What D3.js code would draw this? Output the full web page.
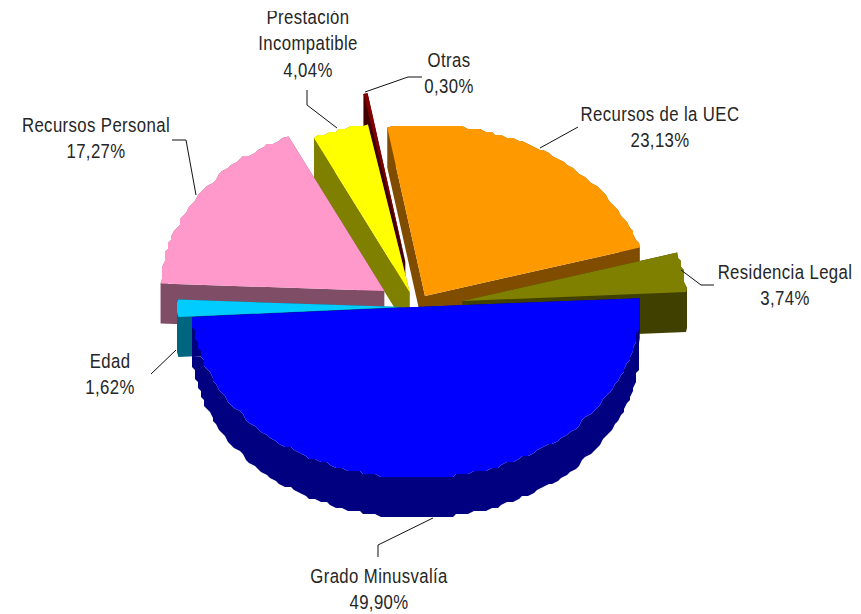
<!DOCTYPE html>
<html><head><meta charset="utf-8">
<script src="https://cdn.jsdelivr.net/npm/d3@7"></script>
<style>html,body{margin:0;padding:0;background:#fff;overflow:hidden}svg{display:block}
text{font-family:"Liberation Sans",Arial,sans-serif;font-size:19.5px;fill:#262626;text-anchor:middle}</style>
</head><body><svg id="c" width="861" height="614"></svg>
<script>
// Data
const categories = ["Recursos de la UEC","Residencia Legal","Grado Minusvalía","Edad","Recursos Personal","Prestación Incompatible","Otras"];
const values = [23.13,3.74,49.90,1.62,17.27,4.04,0.30];
const valueLabels = ["23,13%","3,74%","49,90%","1,62%","17,27%","4,04%","0,30%"];
// Style / layout
const topColors  = ["#FF9900","#808000","#0000FF","#00CCFF","#FF99CC","#FFFF00","#800000"];
const wallColors = ["#804D00","#404000","#000080","#006680","#804D66","#808000","#400000"];
const explode = [17,47,0,14,38,20,60];
const drawOrder = [6,0,5,4,1,3,2];
const labelLines = [["Recursos de la UEC"],["Residencia Legal"],["Grado Minusvalía"],["Edad"],["Recursos Personal"],["Prestación","Incompatible"],["Otras"]];
const labelPos = [[660,121],[785,279],[379,583],[110,368],[96,132],[308,24],[449,67]];
const lineH = 26.5, xScale = .86, ls = .45;
const leaders = [
 [[540,148],[578,127]],
 [[681,270],[701,285],[714,285]],
 [[433,518],[378,545],[378,557]],
 [[176,350],[151,374]],
 [[172,140],[186,140],[196,195]],
 [[307,90],[307,105],[337,128]],
 [[365,92],[408,77],[422,77]]
];
const cx=416, cy=307, rx=224, ry=171, depth=40, startDeg=-9.7, stepDeg=1.5, q=3;

const svg=d3.select("#c");
svg.append("clipPath").attr("id","page").append("rect").attr("x",0).attr("y",11).attr("width",861).attr("height",603);
const rad=d3.scaleLinear().domain([0,360]).range([0,2*Math.PI]);
const arcs=d3.pie().sort(null).startAngle(rad(startDeg)).endAngle(rad(startDeg+360))(values);
const px=d3.scaleLinear().domain([-1,1]).range([-rx,rx]);
const py=d3.scaleLinear().domain([-1,1]).range([ry,-ry]);
const quant=v=>Math.round(v/q)*q;
function outline(a,i){
  const mid=(a.startAngle+a.endAngle)/2, k=explode[i];
  const tx=cx+Math.sin(mid)*k, ty=cy-Math.cos(mid)*k*ry/rx;
  const n=Math.max(1,Math.ceil((a.endAngle-a.startAngle)/rad(stepDeg)));
  const pts=d3.range(n+1).map(j=>{
    const t=a.startAngle+(a.endAngle-a.startAngle)*j/n;
    let x=tx+px(Math.sin(t)), y=ty+py(Math.cos(t));
    if(j>0&&j<n){x=quant(x);y=quant(y);}
    return [x,y];
  });
  return [[tx,ty],...pts];
}
const line=d3.line();
const wallPath=pts=>{
  let s="";
  pts.forEach((p,j)=>{
    let a=p,b=pts[(j+1)%pts.length];
    if(b[0]<a[0]){[a,b]=[b,a];}
    s+=line([a,b,[b[0],b[1]+depth],[a[0],a[1]+depth]])+"Z";
  });
  return s;
};
const gs=svg.selectAll("g.slice").data(drawOrder).join("g").attr("class","slice");
gs.append("path").attr("d",i=>wallPath(outline(arcs[i],i))).attr("fill",i=>wallColors[i]);
gs.append("path").attr("d",i=>line(outline(arcs[i],i))+"Z").attr("fill",i=>topColors[i]);

svg.selectAll("path.leader").data(leaders).join("path").attr("class","leader")
  .attr("d",d=>line(d)).attr("fill","none").attr("stroke","#111").attr("stroke-width",1);

const labels=svg.append("g").attr("clip-path","url(#page)");
const lab=labels.selectAll("text.lab").data(categories).join("text").attr("class","lab")
  .attr("transform",(d,i)=>`translate(${labelPos[i][0]},${labelPos[i][1]}) scale(${xScale},1)`);
lab.each(function(d,i){
  const t=d3.select(this);
  [...labelLines[i],valueLabels[i]].forEach((s,j)=>{
    t.append("tspan").attr("x",0).attr("dy",j?lineH:0)
     .style("letter-spacing",ls+"px").text(s);
  });
});
</script></body></html>
